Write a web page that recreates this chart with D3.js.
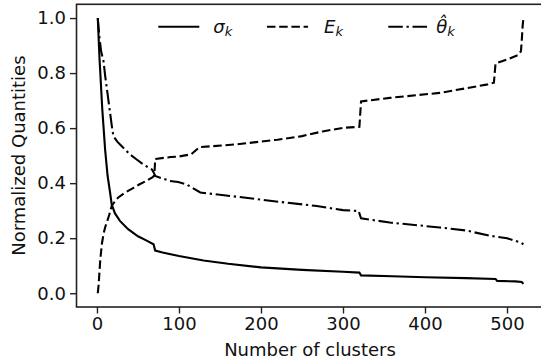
<!DOCTYPE html>
<html>
<head>
<meta charset="utf-8">
<script src="https://cdn.jsdelivr.net/npm/d3@7"></script>
<style>
  body { margin: 0; background: #fff; }
  svg { display: block; font-family: "DejaVu Sans", sans-serif; }
</style>
</head>
<body>
<svg id="canvas" width="541" height="360"></svg>
<script>
// values
var sigmaX = [1, 3, 5, 6.5, 10, 13, 16, 18, 22, 28, 38, 50, 60, 69, 71, 80, 100, 130, 160, 200, 250, 300, 320, 322, 360, 400, 450, 486, 488, 510, 518, 520];
var sigmaY = [1.0, 0.86, 0.75, 0.668, 0.52, 0.426, 0.366, 0.322, 0.29, 0.263, 0.233, 0.207, 0.192, 0.178, 0.155, 0.148, 0.135, 0.119, 0.107, 0.094, 0.085, 0.078, 0.075, 0.065, 0.062, 0.058, 0.055, 0.052, 0.045, 0.043, 0.041, 0.034];

var energyX = [1, 2, 4, 6, 8, 10, 12, 15, 18, 22, 26, 34, 44, 52, 60, 68, 70, 71, 90, 100, 115, 125, 170, 220, 250, 275, 300, 320, 322, 357, 418, 475, 484, 486, 500, 514, 517, 518, 519, 520];
var energyY = [0.0, 0.03, 0.12, 0.18, 0.215, 0.24, 0.257, 0.285, 0.317, 0.335, 0.348, 0.365, 0.382, 0.396, 0.408, 0.422, 0.428, 0.488, 0.495, 0.497, 0.505, 0.531, 0.541, 0.558, 0.571, 0.588, 0.601, 0.605, 0.697, 0.71, 0.728, 0.758, 0.765, 0.835, 0.849, 0.866, 0.88, 0.92, 0.97, 1.0];

var thetaX = [1, 3, 5, 8, 10, 12, 14, 16, 18, 20, 25, 30, 40, 48, 58, 67, 69, 71, 89, 99, 109, 118, 126, 170, 223, 268, 300, 319, 322, 357, 418, 450, 479, 500, 516, 520];
var thetaY = [1.0, 0.93, 0.88, 0.843, 0.79, 0.746, 0.70, 0.656, 0.61, 0.571, 0.55, 0.535, 0.505, 0.487, 0.465, 0.45, 0.44, 0.426, 0.408, 0.404, 0.396, 0.38, 0.366, 0.351, 0.332, 0.317, 0.302, 0.299, 0.272, 0.257, 0.239, 0.228, 0.209, 0.2, 0.185, 0.178];

var xTicks = [0, 100, 200, 300, 400, 500];
var yTicks = [0.0, 0.2, 0.4, 0.6, 0.8, 1.0];
var xTitle = 'Number of clusters';
var yTitle = 'Normalized Quantities';

var svg = d3.select('#canvas');
var margin = { left: 76.5, right: 544.7, top: 4.3, bottom: 307 };

var x = d3.scaleLinear().domain([-24.95, 545.95]).range([margin.left, margin.right]);
var y = d3.scaleLinear().domain([-0.05, 1.05]).range([margin.bottom, margin.top]);

var zip = function (xs, ys) { return xs.map(function (v, i) { return [v, ys[i]]; }); };

var series = [
  { name: 'σ', data: zip(sigmaX, sigmaY), dash: null },
  { name: 'E', data: zip(energyX, energyY), dash: '8.5,3.7' },
  { name: 'θ̂', data: zip(thetaX, thetaY), dash: '14.5,3.7,2.3,3.7' }
];

var line = d3.line().x(d => x(d[0])).y(d => y(d[1]));

series.forEach(function (s) {
  svg.append('path')
    .attr('d', line(s.data))
    .attr('fill', 'none')
    .attr('stroke', '#000')
    .attr('stroke-width', 2.1)
    .attr('stroke-dasharray', s.dash);
});

// spines
svg.append('rect')
  .attr('x', margin.left).attr('y', margin.top)
  .attr('width', margin.right - margin.left).attr('height', margin.bottom - margin.top)
  .attr('fill', 'none').attr('stroke', '#222').attr('stroke-width', 1.6);

// axes
var xAxis = svg.append('g')
  .attr('transform', 'translate(0,' + margin.bottom + ')')
  .call(d3.axisBottom(x).tickValues(xTicks).tickSize(6.5).tickPadding(4).tickFormat(d3.format('d')));
var yAxis = svg.append('g')
  .attr('transform', 'translate(' + margin.left + ',0)')
  .call(d3.axisLeft(y).tickValues(yTicks).tickSize(6.5).tickPadding(4).tickFormat(d3.format('.1f')));
[xAxis, yAxis].forEach(function (a) {
  a.select('.domain').remove();
  a.selectAll('line').attr('stroke', '#222').attr('stroke-width', 1.4);
  a.selectAll('text').attr('fill', '#111').style('font-size', '18px').style('font-family', '"DejaVu Sans", sans-serif');
});

svg.append('text')
  .attr('x', 310).attr('y', 356)
  .attr('text-anchor', 'middle')
  .attr('fill', '#111')
  .style('font-size', '18px')
  .text(xTitle);

svg.append('text')
  .attr('transform', 'translate(25,' + ((margin.top + margin.bottom) / 2) + ') rotate(-90)')
  .attr('text-anchor', 'middle')
  .attr('fill', '#111')
  .style('font-size', '18px')
  .text(yTitle);

// legend
var legendX = [158.3, 267, 388.3];
var legendY = 26.7;
series.forEach(function (s, i) {
  var g = svg.append('g').attr('transform', 'translate(' + legendX[i] + ',' + legendY + ')');
  g.append('line')
    .attr('x1', 0).attr('x2', 41).attr('y1', 0).attr('y2', 0)
    .attr('stroke', '#000').attr('stroke-width', 2.1)
    .attr('stroke-dasharray', s.dash);
  var t = g.append('text')
    .attr('x', i === 2 ? 48 : (i === 1 ? 57 : 55))
    .attr('y', 6)
    .attr('fill', '#111')
    .style('font-size', '18px')
    .style('font-style', 'italic');
  t.append('tspan').text(s.name);
  t.append('tspan').attr('dy', 3).style('font-size', '13px').text('k');
});
</script>
</body>
</html>
